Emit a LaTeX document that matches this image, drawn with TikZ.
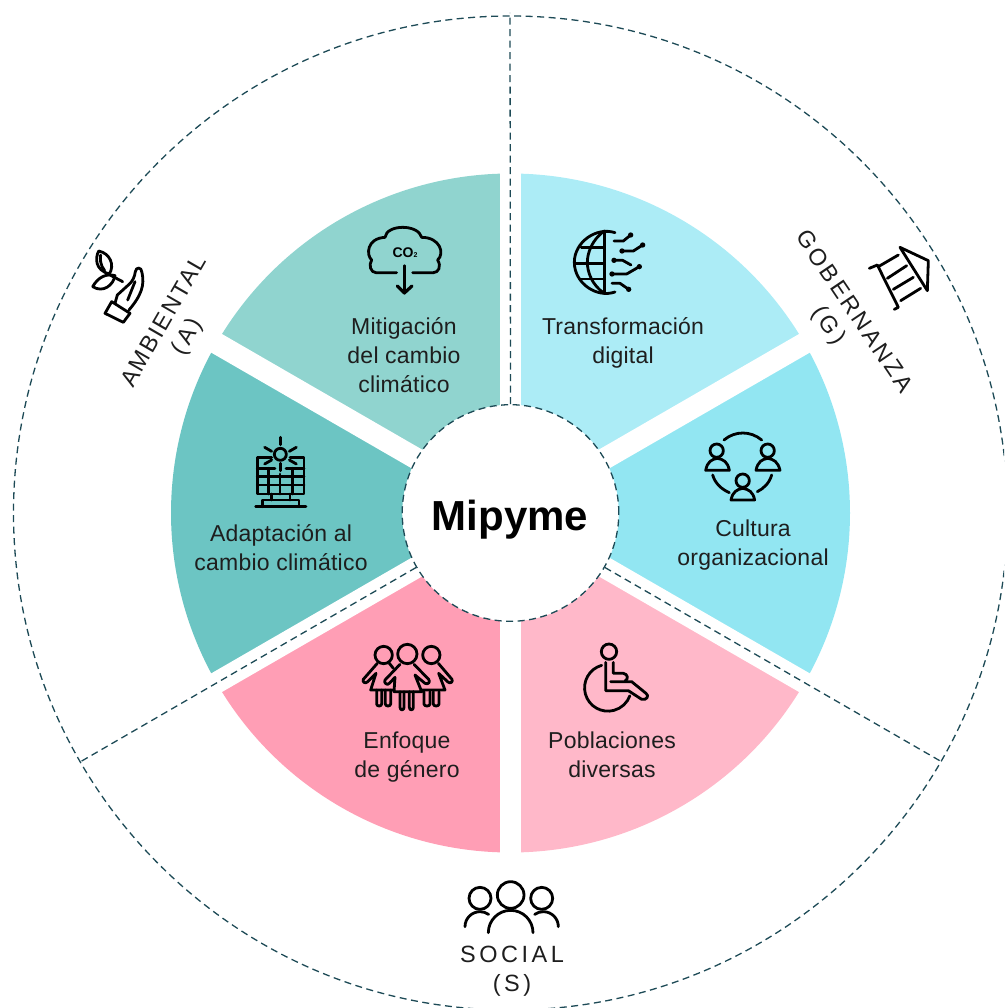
\documentclass[tikz,border=0pt]{standalone}
\usepackage{fontspec}
\setmainfont{Liberation Sans}
\newfontfamily\lblfont[LetterSpace=1]{Liberation Sans}
\newfontfamily\trackS[LetterSpace=15]{Liberation Sans}
\newfontfamily\trackA[LetterSpace=8.5]{Liberation Sans}
\newfontfamily\trackG[LetterSpace=12]{Liberation Sans}
\definecolor{cMit}{HTML}{90D4CF}
\definecolor{cDig}{HTML}{ACECF6}
\definecolor{cCul}{HTML}{92E6F2}
\definecolor{cPob}{HTML}{FFB8C9}
\definecolor{cEnf}{HTML}{FF9EB5}
\definecolor{cAda}{HTML}{6CC5C3}
\definecolor{cDash}{HTML}{1D4A56}
\definecolor{cText}{HTML}{1E1E1E}
\tikzset{
  x=1pt,y=-1pt,
  dashline/.style={draw=cDash,line width=1.3pt,dash pattern=on 7pt off 4.5pt},
  gapline/.style={draw=white,line width=21.5pt},
  icon/.style={draw=black,line width=2.8pt,line cap=round,line join=round},
  lbl/.style={align=center,text=cText,inner sep=0pt,font=\lblfont\fontsize{23}{29}\selectfont},
  axis/.style={align=center,text=cText,inner sep=0pt},
}
\begin{document}
\begin{tikzpicture}
\path[use as bounding box] (0,0) rectangle (1004,1008);
\coordinate (c) at (510.5,513);
% sectors
\fill[cDig] (c) -- +(-90:339.5) arc (-90:-30:339.5) -- cycle;
\fill[cCul] (c) -- +(-30:339.5) arc (-30:30:339.5) -- cycle;
\fill[cPob] (c) -- +(30:339.5) arc (30:90:339.5) -- cycle;
\fill[cEnf] (c) -- +(90:339.5) arc (90:150:339.5) -- cycle;
\fill[cAda] (c) -- +(150:339.5) arc (150:210:339.5) -- cycle;
\fill[cMit] (c) -- +(210:339.5) arc (210:270:339.5) -- cycle;
\draw[gapline] (c) -- +(-90:345);
\draw[gapline] (c) -- +(90:345);
\draw[gapline] (c) -- +(-30:345);
\draw[gapline] (c) -- +(150:345);
\draw[gapline] (c) -- +(30:345);
\draw[gapline] (c) -- +(210:345);
% outer ring
\begin{scope}
\clip (0,0) rectangle (1004,1008);
\draw[dashline] (c) circle (497);
\end{scope}
% hub and dividers
\node[circle,fill=white,dashline,minimum size=216.6pt,inner sep=0pt] (hub) at (c) {};
\node[inner sep=0pt,font=\bfseries\fontsize{42}{42}\selectfont] (hubtext) at (510,520) {Mipyme};
\coordinate (endTop) at (510,13);
\coordinate (endLeft) at (80,762);
\coordinate (endRight) at (942,762);
\draw[dashline] (hub.north) -- (endTop);
\draw[dashline] (hub.-30) -- (endRight);
\draw[dashline] (hub.210) -- (endLeft);
% labels
\node[lbl] (mit) at (404,355) {Mitigación\\del cambio\\climático};
\node[lbl] (dig) at (623,343) {Transformación\\digital};
\node[lbl] (cul) at (753,545) {Cultura\\organizacional};
\node[lbl] (ada) at (281,548) {Adaptación al\\cambio climático};
\node[lbl] (enf) at (407,757) {Enfoque\\de género};
\node[lbl] (pob) at (612,755) {Poblaciones\\diversas};
\node[axis,font=\trackS\fontsize{23.5}{29}\selectfont] (soc) at (512,971) {SOCIAL\\(S)};
\node[axis,rotate=60,font=\trackA\fontsize{23.5}{29}\selectfont] (amb) at (163,321) {AMBIENTAL};
\node[axis,rotate=60,font=\trackS\fontsize{23.5}{29}\selectfont] (ambA) at (188,337) {(A)};
\node[axis,rotate=-56,font=\trackG\fontsize{23.5}{29}\selectfont] (gob) at (855,311) {GOBERNANZA};
\node[axis,rotate=-56,font=\trackS\fontsize{23.5}{29}\selectfont] (gobG) at (828,326) {(G)};
% CO2 cloud
\begin{scope}[shift={(340,200)},scale=1/3]
\draw[icon] (170,218) -- (108,218) .. controls (92,218) and (85,195) .. (95,180)
  .. controls (78,165) and (80,115) .. (135,112) .. controls (140,72) and (235,72) .. (245,112)
  .. controls (300,112) and (315,160) .. (293,180) .. controls (305,200) and (295,218) .. (280,218) -- (218,218);
\draw[icon] (193,197) -- (193,280);
\draw[icon,line width=3.2pt] (172,258) -- (193,279) -- (216,258);
\node[inner sep=0pt,font=\bfseries\fontsize{14}{14}\selectfont,text=black] (co2) at (195,158) {CO{\fontsize{7}{7}\selectfont 2}};
% globe
\draw[icon] (825,98) .. controls (770,80) and (703,125) .. (703,187) .. controls (703,250) and (770,295) .. (825,276);
\draw[icon] (793,93) -- (793,280);
\draw[icon] (793,93) .. controls (755,120) and (742,160) .. (742,187) .. controls (742,215) and (755,255) .. (793,280);
\draw[icon] (724,143) -- (793,143);
\draw[icon] (704,190) -- (793,190);
\draw[icon] (722,237) -- (793,237);
\draw[icon] (822,123) -- (850,123) -- (872,105);
\draw[icon] (846,153) -- (880,153) -- (908,135);
\draw[icon] (822,181) -- (848,181) -- (873,195);
\draw[icon] (816,222) -- (860,222) -- (898,200);
\draw[icon] (816,250) -- (840,250) -- (866,268);
\fill (872,105) circle (8) (908,135) circle (8) (846,153) circle (8) (822,181) circle (8)
  (898,200) circle (8) (816,222) circle (8) (866,268) circle (8);
\end{scope}
% hand and solar panel
\begin{scope}[shift={(60,220)},scale=1/3]
\draw[icon] (135,280) -- (155,245) -- (210,280) -- (190,307) -- cycle;
\draw[icon] (165,250) -- (172,225) -- (205,195) .. controls (218,185) and (224,170) .. (226,155)
  .. controls (228,140) and (245,140) .. (246,158) .. controls (254,195) and (245,225) .. (207,270);
\draw[icon] (225,185) -- (203,240);
\draw[icon] (188,185) -- (150,165);
\draw[icon] (148,162) .. controls (105,150) and (105,115) .. (116,93) .. controls (150,100) and (165,135) .. (148,162);
\draw[icon] (134,152) .. controls (120,135) and (120,115) .. (122,105);
\draw[icon] (98,200) .. controls (115,170) and (140,160) .. (165,167) .. controls (160,195) and (130,220) .. (98,200);
\draw[icon] (661,703) circle (18);
\draw[icon] (661,652) -- (661,674);
\draw[icon] (614,682) -- (635,694);
\draw[icon] (709,682) -- (688,694);
\draw[icon] (614,732) -- (635,720);
\draw[icon] (709,732) -- (688,720);
\draw[icon] (661,730) -- (661,752);
\draw[icon] (635,712) -- (592,712) -- (592,822) -- (732,822) -- (732,712) -- (690,712);
\draw[icon] (592,745) -- (645,745);
\draw[icon] (678,745) -- (732,745);
\draw[icon] (592,770) -- (732,770);
\draw[icon] (592,795) -- (732,795);
\draw[icon] (625,745) -- (625,822);
\draw[icon] (660,762) -- (660,822);
\draw[icon] (697,745) -- (697,822);
\draw[icon] (635,822) -- (635,840);
\draw[icon] (690,822) -- (690,840);
\draw[icon] (608,860) -- (608,840) -- (717,840) -- (717,860);
\draw[icon] (587,860) -- (738,860);
\end{scope}
% temple and circle of people
\begin{scope}[shift={(680,200)},scale=1/3]
\draw[icon] (660,142) -- (745,182) -- (742,272) -- cycle;
\draw[icon] (568,205) -- (592,195) -- (655,322) -- (643,328);
\draw[icon] (595,200) -- (655,165);
\draw[icon] (622,235) -- (680,197);
\draw[icon] (640,268) -- (700,232);
\draw[icon] (662,302) -- (722,265);
\draw[icon] (110,752) circle (20);
\draw[icon] (263,752) circle (20);
\draw[icon] (188,842) circle (20);
\draw[icon] (77,811) .. controls (82,785) and (95,778) .. (112,775) .. controls (130,778) and (143,785) .. (148,811) -- cycle;
\draw[icon] (228,811) .. controls (233,785) and (246,778) .. (263,775) .. controls (281,778) and (294,785) .. (300,811) -- cycle;
\draw[icon] (153,900) .. controls (158,875) and (171,868) .. (188,865) .. controls (206,868) and (219,875) .. (224,900) -- cycle;
\draw[icon] (132,720) .. controls (165,692) and (212,692) .. (245,720);
\draw[icon] (98,825) .. controls (105,850) and (125,868) .. (148,878);
\draw[icon] (275,825) .. controls (268,850) and (250,866) .. (232,875);
\end{scope}
% women and wheelchair
\begin{scope}[shift={(340,630)},scale=1/3]
\draw[icon] (131,75) circle (26);
\draw[icon] (202,72) circle (29);
\draw[icon] (274,75) circle (26);
\draw[icon] (180,103) -- (135,150) .. controls (130,158) and (142,168) .. (148,160) -- (165,142) -- (162,185) -- (245,185) -- (225,135) -- (255,160) .. controls (265,165) and (272,155) .. (266,148) -- (222,103);
\draw[icon] (180,185) -- (180,232) .. controls (180,242) and (192,242) .. (192,232) -- (192,185);
\draw[icon] (208,185) -- (208,232) .. controls (208,242) and (220,242) .. (220,232) -- (220,185);
\draw[icon] (112,100) -- (70,148) .. controls (66,156) and (76,162) .. (82,156) -- (108,130) -- (92,180) -- (160,180);
\draw[icon] (148,100) -- (160,115);
\draw[icon] (110,180) -- (110,222) .. controls (110,230) and (125,230) .. (125,222) -- (125,180);
\draw[icon] (136,180) -- (136,222) .. controls (136,230) and (152,230) .. (152,222) -- (152,180);
\draw[icon] (295,100) -- (336,148) .. controls (340,156) and (330,162) .. (324,156) -- (296,130) -- (315,180) -- (245,180);
\draw[icon] (252,185) -- (252,222) .. controls (252,230) and (270,230) .. (270,222) -- (270,185);
\draw[icon] (280,185) -- (280,222) .. controls (280,230) and (297,230) .. (297,222) -- (297,185);
\draw[icon] (807,65) circle (23);
\draw[icon] (797,97) -- (797,182) -- (865,182) -- (905,208) .. controls (918,212) and (930,198) .. (918,190) -- (875,155) -- (812,155);
\draw[icon] (820,97) -- (820,130) -- (850,130) .. controls (864,132) and (866,148) .. (855,153);
\draw[icon] (785,106) arc (254.5:20:70);
\end{scope}
% social group
\begin{scope}[shift={(430,870)},scale=1/3]
\draw[icon] (242,75) circle (40);
\draw[icon] (150,85) circle (33);
\draw[icon] (335,85) circle (33);
\draw[icon] (175,188) arc (180:360:67);
\draw[icon] (105,170) arc (180:305:45);
\draw[icon] (385,170) arc (360:235:45);
\end{scope}
\end{tikzpicture}
\end{document}
